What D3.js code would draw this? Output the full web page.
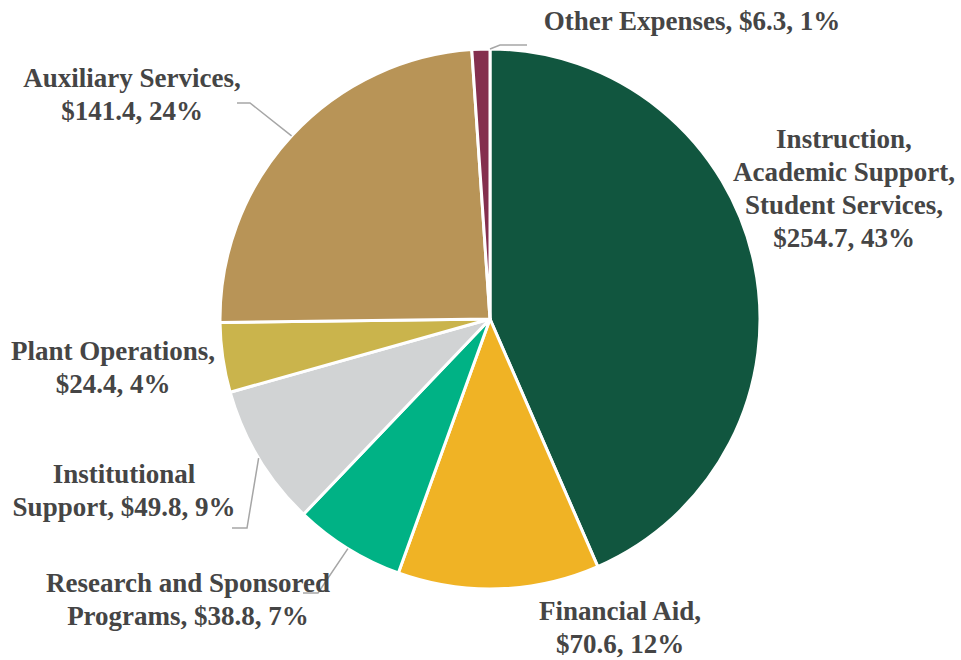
<!DOCTYPE html>
<html>
<head>
<meta charset="utf-8">
<script src="https://cdn.jsdelivr.net/npm/d3@7"></script>
<style>
  html, body { margin: 0; padding: 0; background: #ffffff; }
  svg { display: block; }
  .lbl { font-family: "Liberation Serif", "DejaVu Serif", serif; font-weight: bold; font-size: 27px; fill: #454545; }
</style>
</head>
<body>
<svg id="chart" width="961" height="660"></svg>
<script>
// Expense categories, in clockwise order from 12 o'clock
const categories = [
  "Instruction, Academic Support, Student Services",
  "Financial Aid",
  "Research and Sponsored Programs",
  "Institutional Support",
  "Plant Operations",
  "Auxiliary Services",
  "Other Expenses"
];
// Amounts in millions of dollars
const values = [254.7, 70.6, 38.8, 49.8, 24.4, 141.4, 6.3];
const percents = [43, 12, 7, 9, 4, 24, 1];
const colors = ["#11563f", "#f0b325", "#00b285", "#d1d3d4", "#cab44c", "#b89457", "#842f4e"];

// Label text lines for each slice
const labelLines = [
  ["Instruction,", "Academic Support,", "Student Services,", "$254.7, 43%"],
  ["Financial Aid,", "$70.6, 12%"],
  ["Research and Sponsored", "Programs, $38.8, 7%"],
  ["Institutional", "Support, $49.8, 9%"],
  ["Plant Operations,", "$24.4, 4%"],
  ["Auxiliary Services,", "$141.4, 24%"],
  ["Other Expenses, $6.3, 1%"]
];
// Label anchor (centre x, first baseline y)
const labelPos = [
  [844, 148], [620, 620], [188, 592], [124, 483], [113, 360], [132, 87], [692, 30]
];
// Leader line bends: points after the slice edge, null when no leader
const leaderPts = [
  null, null,
  [[318, 593], [303, 593]],
  [[247, 528], [232, 528]],
  null,
  [[250, 103], [237, 103]],
  [[500, 45], [527, 45]]
];

const cx = 490, cy = 319, radius = 270, lineH = 33;
const svg = d3.select("#chart");

const pie = d3.pie().sort(null).value(d => d)(values);
const arc = d3.arc().innerRadius(0).outerRadius(radius);

const g = svg.append("g").attr("transform", `translate(${cx},${cy})`);
g.selectAll("path.slice")
  .data(pie)
  .join("path")
  .attr("class", "slice")
  .attr("d", arc)
  .attr("fill", (d, i) => colors[i])
  .attr("stroke", "#ffffff")
  .attr("stroke-width", 3)
  .attr("stroke-linejoin", "round");

// Leader lines from the slice edge to the label
pie.forEach((d, i) => {
  if (!leaderPts[i]) return;
  // attach at the mid-angle; the thin last slice attaches at its trailing edge
  const a = i === values.length - 1 ? d.endAngle : (d.startAngle + d.endAngle) / 2;
  const start = [cx + radius * Math.sin(a), cy - radius * Math.cos(a)];
  svg.append("path")
    .attr("d", d3.line()([start, ...leaderPts[i]]))
    .attr("fill", "none")
    .attr("stroke", "#a6a6a6")
    .attr("stroke-width", 1.5);
});

// Labels
labelLines.forEach((lines, i) => {
  const t = svg.append("text")
    .attr("class", "lbl")
    .attr("text-anchor", "middle")
    .attr("x", labelPos[i][0])
    .attr("y", labelPos[i][1]);
  lines.forEach((s, k) => {
    t.append("tspan")
      .attr("x", labelPos[i][0])
      .attr("dy", k === 0 ? 0 : lineH)
      .text(s);
  });
});
</script>
</body>
</html>
